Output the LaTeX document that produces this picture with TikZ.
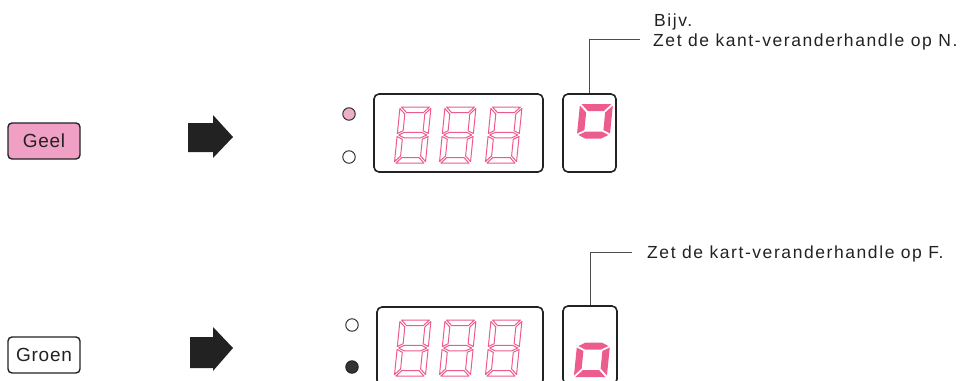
\documentclass[tikz,border=0pt]{standalone}
\usepackage{xcolor}
\usepackage{fontspec}
\newfontfamily\notefont[LetterSpace=9]{Liberation Sans}
\newfontfamily\keyfont[LetterSpace=4]{Liberation Sans}

\definecolor{keypink}{HTML}{F0A0C4}
\definecolor{ledpink}{HTML}{EBB0C8}
\definecolor{segpink}{HTML}{EE5A8C}
\definecolor{litpink}{HTML}{EC5C8E}
\definecolor{inkgray}{HTML}{222222}

% segments of a seven-segment digit (a = top, clockwise, g = middle)
\newcommand{\segA}{(\sg,0) -- (\sw-\sg,0) -- (\sw-\st-\sg,\st) -- (\st+\sg,\st) -- cycle}
\newcommand{\segB}{(\sw,\sg) -- (\sw,\sh/2-\sg) -- (\sw-\st,\sh/2-\st/2-\sg) -- (\sw-\st,\st+\sg) -- cycle}
\newcommand{\segC}{(\sw,\sh/2+\sg) -- (\sw,\sh-\sg) -- (\sw-\st,\sh-\st-\sg) -- (\sw-\st,\sh/2+\st/2+\sg) -- cycle}
\newcommand{\segD}{(\sg,\sh) -- (\sw-\sg,\sh) -- (\sw-\st-\sg,\sh-\st) -- (\st+\sg,\sh-\st) -- cycle}
\newcommand{\segE}{(0,\sh/2+\sg) -- (0,\sh-\sg) -- (\st,\sh-\st-\sg) -- (\st,\sh/2+\st/2+\sg) -- cycle}
\newcommand{\segF}{(0,\sg) -- (0,\sh/2-\sg) -- (\st,\sh/2-\st/2-\sg) -- (\st,\st+\sg) -- cycle}
\newcommand{\segG}{(\sg,\sh/2) -- (\st+\sg,\sh/2-\st/2) -- (\sw-\st-\sg,\sh/2-\st/2) -- (\sw-\sg,\sh/2) -- (\sw-\st-\sg,\sh/2+\st/2) -- (\st+\sg,\sh/2+\st/2) -- cycle}

\tikzset{
  segline/.style={draw=segpink, line width=1pt, line join=round},
  seglit/.style={fill=litpink},
  pics/outdigit/.style={code={
    \def\sw{31}\def\sh{56}\def\st{5.5}\def\sg{1.5}
    \draw[segline] \segA \segB \segC \segD \segE \segF \segG;
  }},
  pics/litdigitN/.style={code={
    \def\sw{33}\def\sh{62}\def\st{7}\def\sg{1.5}
    \fill[seglit] \segA \segB \segF \segG;
  }},
  pics/litdigitF/.style={code={
    \def\sw{33}\def\sh{62}\def\st{7}\def\sg{1.5}
    \fill[seglit] \segC \segD \segE \segG;
  }},
}

\begin{document}
\begin{tikzpicture}[x=1pt,y=-1pt,
  key/.style={draw=inkgray, line width=1.4pt, rounded corners=4pt, minimum width=72pt,
    minimum height=36pt, inner sep=0pt, text=inkgray, font=\keyfont\fontsize{19}{20}\selectfont},
  panel/.style={draw=inkgray, line width=1.6pt, rounded corners=5pt, inner sep=0pt},
  led/.style={circle, draw=inkgray, line width=0.9pt, minimum size=12.5pt, inner sep=0pt},
  note/.style={anchor=base west, inner sep=0pt, text=inkgray, font=\notefont\fontsize{17.5}{20}\selectfont},
  leader/.style={draw=black!70, line width=0.7pt},
  blockarrow/.style={fill=inkgray}]

  \useasboundingbox (0,0) rectangle (968,380);
  \clip (0,0) rectangle (968,380);

  % Geel
  \node[key, fill=keypink] (geel) at (44,141) {Geel};
  \fill[blockarrow] (188,123) -- (213,123) -- (213,115) -- (233,137) -- (213,158) -- (213,152) -- (188,152) -- cycle;
  \node[led, fill=ledpink] (ledA1) at (349,114) {};
  \node[led, fill=white]   (ledA2) at (349,157) {};
  \node[panel, minimum width=169pt, minimum height=78pt] (dispA) at (458.5,133) {};
  \node[panel, minimum width=53pt, minimum height=78pt]  (boxN)  at (589.5,133) {};
  \foreach \dx in {400,445,491}
    \pic[xslant=0.1] at (\dx,107) {outdigit};
  \pic[xslant=0.1] at (580,104) {litdigitN};
  \coordinate (leadN) at (640,39);
  \draw[leader] (boxN.north) |- (leadN);
  \node[note] (bijv)  at (654,26.7) {Bijv.};
  \node[note] (noteN) at (653,46.7) {Zet de kant-veranderhandle op N.};

  % Groen
  \node[key, fill=white] (groen) at (44,355) {Groen};
  \fill[blockarrow] (190,337) -- (213,337) -- (213,327) -- (233,348) -- (213,371) -- (213,368) -- (190,368) -- cycle;
  \node[led, fill=white]     (ledB1) at (352,325) {};
  \node[led, fill=black!80]  (ledB2) at (352,367) {};
  \node[panel, minimum width=166pt, minimum height=78pt] (dispB) at (460,346) {};
  \node[panel, minimum width=54pt, minimum height=78pt]  (boxF)  at (590,345) {};
  \foreach \dx in {400,445,491}
    \pic[xslant=0.1] at (\dx,320) {outdigit};
  \pic[xslant=0.1] at (580,315) {litdigitF};
  \coordinate (leadF) at (632,252);
  \draw[leader] (boxF.north) |- (leadF);
  \node[note] (noteF) at (647,258.3) {Zet de kart-veranderhandle op F.};
\end{tikzpicture}
\end{document}
